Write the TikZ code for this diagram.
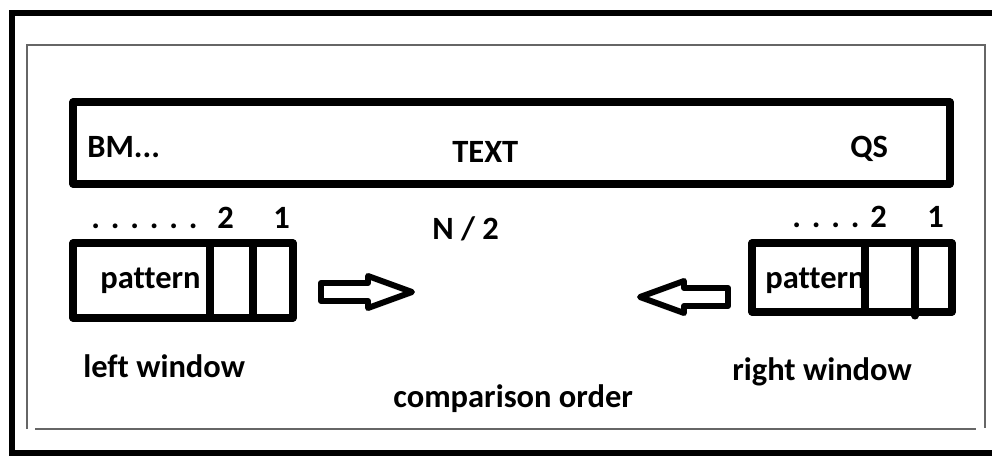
\documentclass[tikz,border=0pt]{standalone}
\usepackage{fontspec}
\setmainfont[Ligatures=NoCommon]{Carlito}
\begin{document}
\begin{tikzpicture}[x=0.02cm,y=-0.02cm,
  heavy/.style={line width=4pt, line cap=round, line join=round},
  thinframe/.style={line width=1.2pt, draw=black!60},
  lbl/.style={font=\bfseries\fontsize{18.5}{22}\selectfont, inner sep=0pt, anchor=base west},
  blockarrow/.style={line width=3.4pt, line join=round, fill=white},
]
\clip (0,0) rectangle (992,457);
\fill[white] (0,0) rectangle (992,457);

% outer heavy frame and inner thin frame
\draw[line width=3.4pt] (12,13) rectangle (1010,453);
\draw[thinframe] (27,429) -- (27,45) -- (985,45) -- (985,428);
\draw[thinframe] (35,429) -- (976,429);

% text strip
\draw[heavy] (73,102) rectangle (950,184);
\node[lbl] (bm) at (87,157) {BM...};
\node[lbl] (text) at (452,162) {TEXT};
\node[lbl] (qs) at (850,157) {QS};

% left window
\node[lbl] (ldots) at (91,228) {.\,\,.\,\,.\,\,.\,\,.\,\,.};
\node[lbl] (l2) at (217,228) {2};
\node[lbl] (l1) at (273,228) {1};
\draw[heavy] (73,243) rectangle (293,318);
\draw[heavy] (210,243) -- (210,318);
\draw[heavy] (253,243) -- (253,318);
\node[lbl] (lpat) at (100,288) {pattern};
\node[lbl] (lwin) at (83,377) {left window};

% right window
\node[lbl] (rdots) at (792,227) {.\,\,.\,\,.\,\,.};
\node[lbl] (r2) at (870,227) {2};
\node[lbl] (r1) at (927,227) {1};
\node[lbl] (rpat) at (765,288) {pattern};
\draw[heavy] (752,243) rectangle (952,312);
\draw[heavy] (865,243) -- (865,312);
\draw[heavy] (915,243) -- (915,316);
\node[lbl] (rwin) at (732,380) {right window};

% middle labels
\node[lbl] (half) at (432,239) {N / 2};
\node[lbl] (order) at (393,407) {comparison order};

% comparison direction arrows
\draw[blockarrow] (321,283) -- (368,283) -- (368,276) -- (412,292)
  -- (368,308) -- (368,301) -- (321,301) -- cycle;
\draw[blockarrow] (728,288) -- (684,288) -- (684,281) -- (640,297)
  -- (684,313) -- (684,306) -- (728,306) -- cycle;
\end{tikzpicture}
\end{document}
